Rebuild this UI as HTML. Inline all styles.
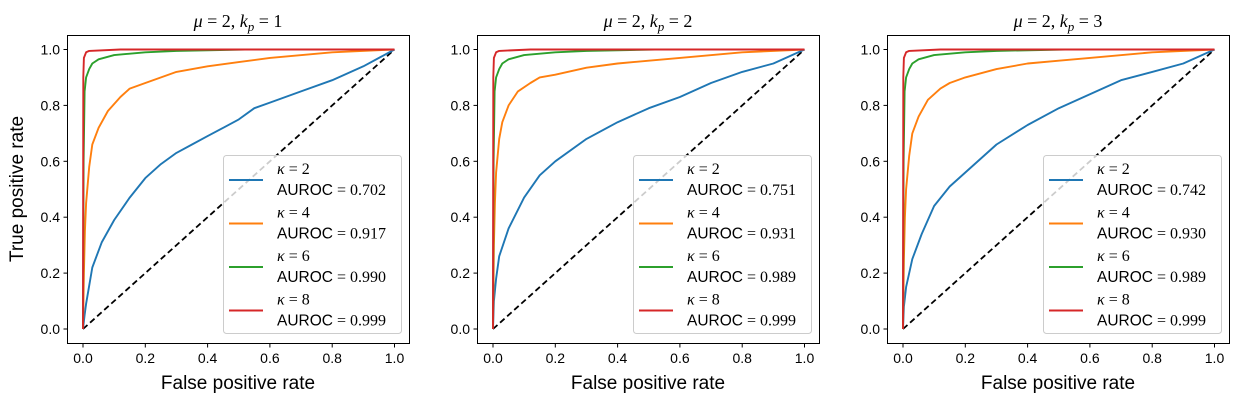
<!DOCTYPE html>
<html><head><meta charset="utf-8"><style>
html,body{margin:0;padding:0;background:#fff;width:1239px;height:402px;overflow:hidden}
svg text{font-family:"Liberation Sans",sans-serif}
.m{font-family:"Liberation Serif",serif}
</style></head><body>
<svg id="chart" width="1239" height="402" xmlns="http://www.w3.org/2000/svg"></svg>
<script>
const panelTitles = [["2","1"],["2","2"],["2","3"]];
const kappas = [2,4,6,8];
const aurocs = [["0.702","0.917","0.990","0.999"],["0.751","0.931","0.989","0.999"],["0.742","0.930","0.989","0.999"]];
const ticks = [0,0.2,0.4,0.6,0.8,1.0];
const colors = ["#1f77b4","#ff7f0e","#2ca02c","#d62728"];
const blueP1X = [0,0.005,0.01,0.03,0.06,0.1,0.15,0.2,0.25,0.3,0.35,0.4,0.45,0.5,0.55,0.6,0.7,0.8,0.9,1];
const blueP1Y = [0,0.05,0.09,0.22,0.31,0.39,0.47,0.54,0.59,0.63,0.66,0.69,0.72,0.75,0.79,0.81,0.85,0.89,0.94,1];
const blueP2X = [0,0.003,0.01,0.02,0.05,0.1,0.15,0.2,0.3,0.4,0.5,0.6,0.7,0.8,0.9,1];
const blueP2Y = [0,0.1,0.18,0.26,0.36,0.47,0.55,0.6,0.68,0.74,0.79,0.83,0.88,0.92,0.95,1];
const blueP3X = [0,0.003,0.01,0.03,0.06,0.1,0.15,0.2,0.3,0.4,0.5,0.6,0.7,0.8,0.9,1];
const blueP3Y = [0,0.08,0.15,0.25,0.34,0.44,0.51,0.56,0.66,0.73,0.79,0.84,0.89,0.92,0.95,1];
const orangeX = [0,0.003,0.006,0.01,0.02,0.03,0.05,0.08,0.12,0.15,0.2,0.3,0.4,0.5,0.6,0.8,1];
const orangeP1Y = [0,0.2,0.35,0.45,0.58,0.66,0.72,0.78,0.83,0.86,0.88,0.92,0.94,0.955,0.97,0.99,1];
const orangeP2Y = [0,0.3,0.45,0.56,0.68,0.74,0.8,0.85,0.88,0.9,0.91,0.935,0.95,0.96,0.97,0.99,1];
const orangeP3Y = [0,0.25,0.4,0.5,0.62,0.7,0.76,0.82,0.86,0.88,0.9,0.93,0.95,0.96,0.97,0.99,1];
const greenX = [0,0.002,0.005,0.01,0.02,0.03,0.05,0.1,0.2,0.3,0.52,1];
const greenY = [0,0.6,0.85,0.9,0.93,0.95,0.965,0.98,0.99,0.995,1,1];
const redX = [0,0.001,0.003,0.01,0.02,0.12,1];
const redY = [0,0.9,0.97,0.99,0.995,1,1];
const curveX = [[blueP1X,orangeX,greenX,redX],[blueP2X,orangeX,greenX,redX],[blueP3X,orangeX,greenX,redX]];
const curveY = [[blueP1Y,orangeP1Y,greenY,redY],[blueP2Y,orangeP2Y,greenY,redY],[blueP3Y,orangeP3Y,greenY,redY]];

const NS="http://www.w3.org/2000/svg";
const svg=document.getElementById('chart');
function mk(tag,attrs,parent){const e=document.createElementNS(NS,tag);for(const k in attrs)e.setAttribute(k,attrs[k]);(parent||svg).appendChild(e);return e;}
for(let p=0;p<3;p++){
  const off=p*410;
  const g=mk('g',{});
  
  
  const sx=v=>83+off+v*311.5;
  const sy=v=>329-v*279.5;
  const box=mk('rect',{x:67.5+off,y:35.5,width:342,height:308,fill:'none',stroke:'#000','stroke-width':1},g);
  
  
  ticks.forEach(t=>{
    mk('line',{x1:sx(t),x2:sx(t),y1:343.5,y2:347.5,stroke:'#000'},g);
    const tx=mk('text',{x:sx(t),y:363,'font-size':14,'text-anchor':'middle'},g);
    tx.textContent=t.toFixed(1);
    
    
    mk('line',{x1:63.5+off,x2:67.5+off,y1:sy(t),y2:sy(t),stroke:'#000'},g);
    const ty=mk('text',{x:60+off,y:sy(t)+5,'font-size':14,'text-anchor':'end'},g);
    ty.textContent=t.toFixed(1);
    
    
  });
  const xl=mk('text',{x:238+off,y:389,'font-size':19,'text-anchor':'middle'},g);
  xl.textContent='False positive rate';
  
  
  const tt=mk('text',{x:238+off,y:27,'font-size':18,'text-anchor':'middle',class:'m'},g);
  tt.innerHTML='<tspan font-style="italic">μ</tspan> = '+panelTitles[p][0]+', <tspan font-style="italic">k</tspan><tspan font-style="italic" font-size="13" dy="4">p</tspan><tspan dy="-4"> = '+panelTitles[p][1]+'</tspan>';
  
  
  const d=mk('line',{x1:sx(0),y1:sy(0),x2:sx(1),y2:sy(1),stroke:'#000','stroke-width':1.8,'stroke-dasharray':'6,3.5'},g);
  
  
  for(let c=0;c<4;c++){
    const xs=curveX[p][c], ys=curveY[p][c];
    const pts=xs.map((x,i)=>sx(x).toFixed(1)+','+sy(ys[i]).toFixed(1)).join(' ');
    const pl=mk('polyline',{points:pts,fill:'none',stroke:colors[c],'stroke-width':1.9,'stroke-linejoin':'round'},g);
    
    
  }
  const lg=mk('g',{},g);
  
  
  mk('rect',{x:223.5+off,y:155.5,width:178,height:178,rx:3,fill:'#fff','fill-opacity':0.8,stroke:'#ccc'},lg);
  for(let c=0;c<4;c++){
    const y0=180+c*43.5;
    const ln=mk('line',{x1:229+off,x2:263+off,y1:y0,y2:y0,stroke:colors[c],'stroke-width':1.9},lg);
    
    
    const k=mk('text',{x:277+off,y:y0-6,'font-size':16,class:'m'},lg);
    k.innerHTML='<tspan font-style="italic">κ</tspan> = '+kappas[c];
    
    
    const a=mk('text',{x:277+off,y:y0+15,'font-size':15.5},lg);
    a.innerHTML='AUROC<tspan class="m" font-family="Liberation Serif" font-size="16"> = '+aurocs[p][c]+'</tspan>';
    
    
  }
}
const yl=mk('text',{x:0,y:0,'font-size':19,'text-anchor':'middle',transform:'translate(23,189) rotate(-90)'});
yl.textContent='True positive rate';


</script>
</body></html>
